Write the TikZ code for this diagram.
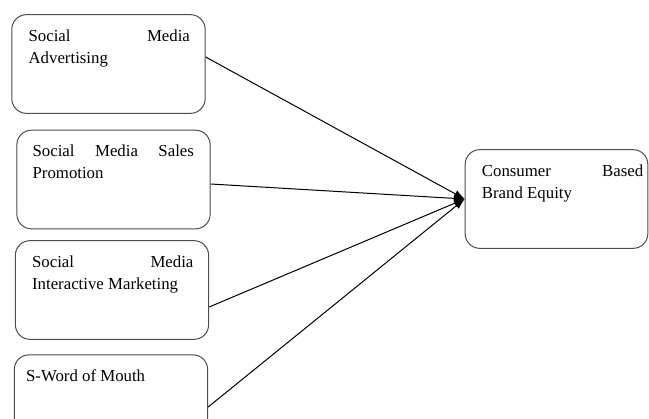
\documentclass[tikz,border=0pt]{standalone}
\usepackage{fontspec}
\setmainfont{Liberation Serif}
\usetikzlibrary{calc}
\usetikzlibrary{arrows.meta}
\tolerance=10000
\hyphenpenalty=10000
\tikzstyle{factor-box}=[
draw=black!70,
line width=0.75pt,
rounded corners=11pt,
minimum width=145pt,
minimum height=74pt,
shape=rectangle,
]
\tikzstyle{factor-text}=[
anchor=north west,
inner sep=0pt,
text width=121pt,
align=justify,
font=\fontsize{12.6pt}{16.5pt}\selectfont,
]
\tikzstyle{link}=[
line width=0.75pt,
-{Latex[length=8pt,width=6pt]},
]

\begin{document}
\begin{tikzpicture}[x=0.75pt, y=-0.75pt]
        \useasboundingbox (0,0) rectangle (649,418);

        \newcommand{\factor}[4]
        {
          \node[factor-text] (#1-text) at ($(#1.north west)+(#2,15)$) {#4};
          \draw[link] ($(#1.east)+(0,#3)$) -- (cbbe.west);
        }

        \node[factor-box, minimum width=137pt] (cbbe) at (556.5,199) {};
        \node[factor-text] (cbbe-text) at ($(cbbe.north west)+(17,15)$)
          {Consumer Based\linebreak Brand Equity};

        \node[factor-box] (adv) at (108.5,64) {};
        \node[factor-box] (sales) at (113.5,179.5) {};
        \node[factor-box] (inter) at (112,290) {};
        \node[factor-box, minimum height=58pt] (wom) at (111,393.5) {};

        \factor{adv}{17}{-7}{Social Media\linebreak Advertising}
        \factor{sales}{16}{4.5}{Social Media Sales\linebreak Promotion}
        \factor{inter}{17}{17}{Social Media\linebreak Interactive Marketing}
        \factor{wom}{12}{13.5}{S-Word of Mouth}
      \end{tikzpicture}
\end{document}
